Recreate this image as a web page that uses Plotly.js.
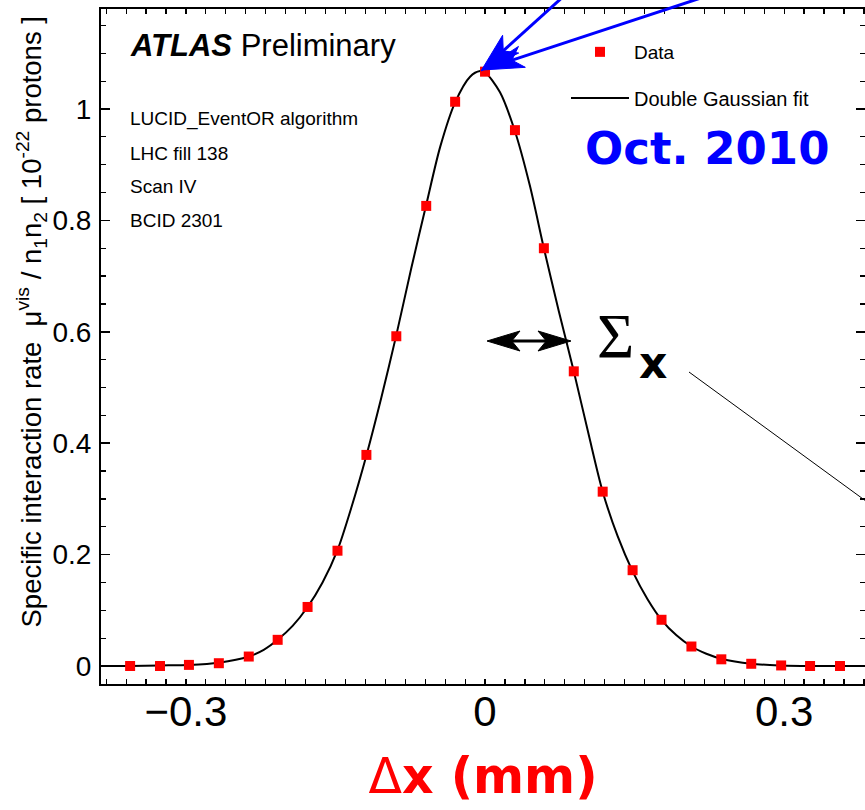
<!DOCTYPE html>
<html><head><meta charset="utf-8">
<script src="https://cdn.plot.ly/plotly-3.0.1.min.js"></script>
<style>html,body{margin:0;padding:0;overflow:hidden;background:#fff}</style>
</head><body><div id="chart" style="width:865px;height:810px"></div>
<script>
// Data points (Delta x in mm, specific interaction rate)
const dataX = [-0.356,-0.326,-0.297,-0.267,-0.237,-0.208,-0.178,-0.148,-0.119,-0.089,-0.059,-0.030,0.000,0.030,0.059,0.089,0.118,0.148,0.177,0.207,0.237,0.267,0.297,0.326,0.356];
const dataY = [0.000,0.000,0.002,0.005,0.017,0.047,0.106,0.207,0.379,0.592,0.826,1.013,1.067,0.962,0.750,0.529,0.313,0.172,0.083,0.035,0.012,0.004,0.001,0.000,0.000];
// Double Gaussian fit curve
const fitX = [-0.385,-0.356,-0.326,-0.297,-0.267,-0.237,-0.222,-0.208,-0.193,-0.178,-0.163,-0.148,-0.134,-0.119,-0.104,-0.089,-0.074,-0.059,-0.045,-0.030,-0.015,-0.005,0.000,0.015,0.030,0.045,0.059,0.074,0.089,0.104,0.118,0.133,0.148,0.163,0.177,0.192,0.207,0.222,0.237,0.267,0.297,0.326,0.356,0.381];
const fitY = [0.000,0.000,0.001,0.002,0.006,0.017,0.029,0.047,0.072,0.106,0.150,0.208,0.285,0.378,0.482,0.594,0.714,0.828,0.932,1.012,1.058,1.068,1.066,1.030,0.960,0.862,0.750,0.637,0.529,0.415,0.313,0.233,0.170,0.120,0.083,0.055,0.035,0.022,0.013,0.004,0.001,0.000,0.000,0.000];
// Axis ticks
const xLabelVals = [-0.3,0,0.3];
const xLabelText = ['\u22120.3','0','0.3'];
const xMajorVals = [-0.3,-0.2,-0.1,0,0.1,0.2,0.3];
const yTickVals = [0,0.2,0.4,0.6,0.8,1];
const yTickText = ['0','0.2','0.4','0.6','0.8','1'];
const infoLines = ['LUCID_EventOR algorithm','LHC fill 138','Scan IV','BCID 2301'];

// plot-area pixel helpers (plot area: x 101..865, y 9..684)
const L = 101, T = 9, W = 764, H = 675;
const px = x => (x - L) / W;
const py = y => (T + H - y) / H;
const xRange = [-0.3852, 0.3811];

function arrowShapes(x0, y0, x1, y1, headLen, headHalf, color, lw, both) {
  const dx = x1 - x0, dy = y1 - y0, len = Math.hypot(dx, dy);
  const ux = dx / len, uy = dy / len, nx = -uy, ny = ux;
  const shapes = [];
  const head = (tx, ty, sx, sy) => {
    const bx = tx - sx * headLen, by = ty - sy * headLen;
    return {type:'path', xref:'paper', yref:'paper', layer:'above',
      path:`M${px(tx)},${py(ty)} L${px(bx + nx*headHalf)},${py(by + ny*headHalf)} L${px(tx - sx*headLen*0.75)},${py(ty - sy*headLen*0.75)} L${px(bx - nx*headHalf)},${py(by - ny*headHalf)} Z`,
      fillcolor: color, line:{color: color, width: 1}};
  };
  const sx0 = both ? x0 + ux*headLen*0.7 : x0, sy0 = both ? y0 + uy*headLen*0.7 : y0;
  shapes.push({type:'line', xref:'paper', yref:'paper', layer:'above',
    x0: px(sx0), y0: py(sy0), x1: px(x1 - ux*headLen*0.7), y1: py(y1 - uy*headLen*0.7),
    line:{color: color, width: lw}});
  shapes.push(head(x1, y1, ux, uy));
  if (both) shapes.push(head(x0, y0, -ux, -uy));
  return shapes;
}

const traces = [
  {x: fitX, y: fitY, type:'scatter', mode:'lines', name:'Double Gaussian fit', legend:'legend2',
   line:{color:'#000', width:2, shape:'spline', smoothing:0.8}},
  {x: dataX, y: dataY, type:'scatter', mode:'markers', name:'Data', legend:'legend',
   marker:{symbol:'square', size:10, color:'#ff0000'}, cliponaxis:false}
];

const annotations = [
  {xref:'paper', yref:'paper', x:px(128), y:py(46), xanchor:'left', yanchor:'middle', showarrow:false,
   text:'<b><i>ATLAS</i></b> Preliminary', font:{size:31, family:'Liberation Sans, Arial, sans-serif', color:'#000'}},
  {xref:'paper', yref:'paper', x:px(583), y:py(148), xanchor:'left', yanchor:'middle', showarrow:false,
   text:'<b>Oct. 2010</b>', font:{size:45, family:'DejaVu Sans, sans-serif', color:'#0000ff'}},
  {xref:'paper', yref:'paper', x:px(615), y:py(336), xanchor:'center', yanchor:'middle', showarrow:false,
   text:'\u03a3', font:{size:64, family:'Liberation Serif, serif', color:'#000'}},
  {xref:'paper', yref:'paper', x:px(653), y:py(362), xanchor:'center', yanchor:'middle', showarrow:false,
   text:'<b>x</b>', font:{size:44, family:'DejaVu Sans, sans-serif', color:'#000'}},
  {xref:'paper', yref:'paper', x:px(31), y:py(630), xanchor:'center', yanchor:'bottom', showarrow:false, textangle:-90,
   text:'Specific interaction rate  \u03bc<sup>vis</sup> / n<sub>1</sub>n<sub>2</sub> [ 10<sup>-22</sup> protons ]',
   font:{size:27.5, family:'Liberation Sans, Arial, sans-serif', color:'#000'}}
];
const infoY = [119, 153, 187, 220];
infoLines.forEach((t, i) => annotations.push({xref:'paper', yref:'paper', x:px(128), y:py(infoY[i]),
  xanchor:'left', yanchor:'middle', showarrow:false, text:t,
  font:{size:19, family:'Liberation Sans, Arial, sans-serif', color:'#000'}}));

let shapes = [];
shapes = shapes.concat(arrowShapes(565, -5, 481, 71, 40, 12, '#0000ff', 3, false));
shapes = shapes.concat(arrowShapes(710, -5, 482, 70, 42, 11, '#0000ff', 3, false));
shapes = shapes.concat(arrowShapes(487, 341, 571, 341, 33, 10, '#000', 3, true));
shapes.push({type:'line', xref:'paper', yref:'paper', layer:'above', x0:px(689), y0:py(372), x1:px(885), y1:py(515),
  line:{color:'#000', width:1}});

const layout = {
  width:865, height:810,
  margin:{l:L, r:0, t:T, b:810-T-H, pad:0},
  paper_bgcolor:'#fff', plot_bgcolor:'#fff',
  font:{family:'Liberation Sans, Arial, sans-serif', color:'#000'},
  showlegend:true,
  legend:{x:px(566), y:py(52), xanchor:'left', yanchor:'middle', bgcolor:'rgba(0,0,0,0)', borderwidth:0,
    font:{size:19}, itemwidth:58},
  legend2:{x:px(566), y:py(98), xanchor:'left', yanchor:'middle', bgcolor:'rgba(0,0,0,0)', borderwidth:0,
    font:{size:20}, itemwidth:58},
  xaxis:{range:xRange, showgrid:false, zeroline:false, showline:true, linecolor:'#000', linewidth:2,
    mirror:'ticks', ticks:'inside', ticklen:5, tickwidth:1.2, tickcolor:'#000',
    tickmode:'array', tickvals:xLabelVals, ticktext:xLabelText, tickfont:{size:42}, ticklabelstandoff:-10,
    minor:{tick0:0, dtick:0.02, ticks:'inside', ticklen:5, tickwidth:1.2, tickcolor:'#000'},
    title:{text:'\u0394<b>x (mm)</b>', font:{size:49, family:'DejaVu Sans, sans-serif', color:'#ff0000'}, standoff:24}},
  xaxis2:{overlaying:'x', anchor:'y', side:'bottom', range:xRange, showgrid:false, zeroline:false, showline:false,
    mirror:'ticks', ticks:'inside', ticklen:9, tickwidth:1.5, tickcolor:'#000',
    tickmode:'array', tickvals:xMajorVals, showticklabels:false},
  yaxis:{range:[-0.0323, 1.1795], showgrid:false, zeroline:false, showline:true, linecolor:'#000', linewidth:2,
    mirror:'ticks', ticks:'inside', ticklen:9, tickwidth:1.5, tickcolor:'#000',
    tickmode:'array', tickvals:yTickVals, ticktext:yTickText, tickfont:{size:28}, ticklabelstandoff:2,
    minor:{tick0:0, dtick:0.05, ticks:'inside', ticklen:5, tickwidth:1.2, tickcolor:'#000'}},
  annotations:annotations,
  shapes:shapes
};
Plotly.newPlot('chart', traces, layout, {displayModeBar:false, staticPlot:true});
</script></body></html>
